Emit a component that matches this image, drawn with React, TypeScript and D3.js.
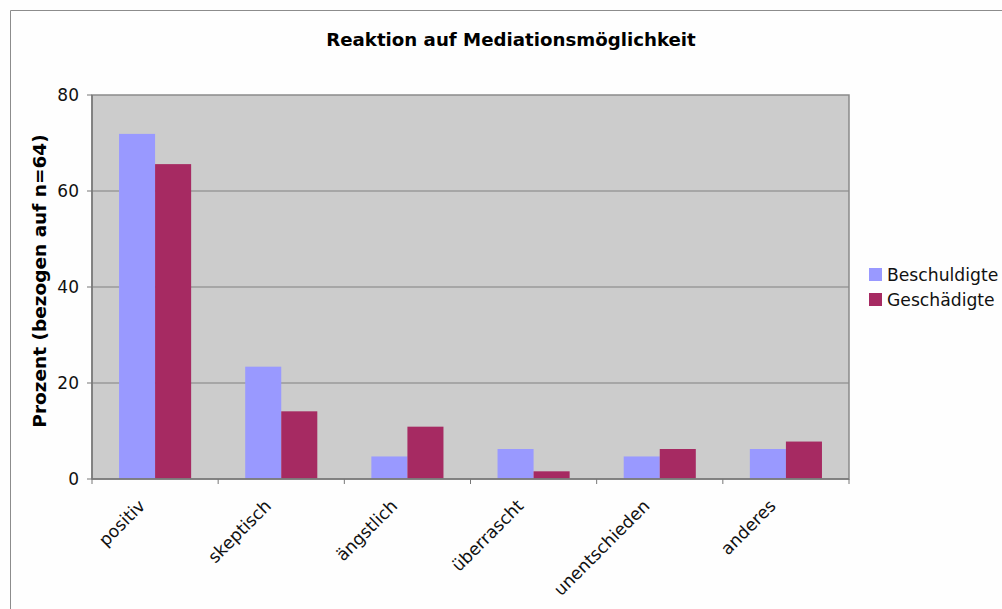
import React from "react";
import * as d3 from "d3";

const categories = ["positiv", "skeptisch", "ängstlich", "überrascht", "unentschieden", "anderes"];
const beschuldigte = [71.9, 23.4, 4.7, 6.25, 4.7, 6.25];
const geschaedigte = [65.6, 14.1, 10.9, 1.6, 6.25, 7.8];
const seriesNames = ["Beschuldigte", "Geschädigte"];
const seriesColors = ["#9999FF", "#A62A62"];
const yTicks = [0, 20, 40, 60, 80];
const title = "Reaktion auf Mediationsmöglichkeit";
const yTitle = "Prozent (bezogen auf n=64)";

const W = 1002;
const H = 609;
const plot = { left: 92, top: 95, right: 849, bottom: 479 };
const font = "'DejaVu Sans', Verdana, sans-serif";

export default function App() {
  const x = d3.scaleBand<string>().domain(categories).range([plot.left, plot.right]).paddingInner(0).paddingOuter(0);
  const y = d3.scaleLinear().domain([0, 80]).range([plot.bottom, plot.top]);
  const bw = x.bandwidth() / 3.5;
  const series = [beschuldigte, geschaedigte];

  return (
    <svg width={W} height={H} style={{ position: "absolute", left: 0, top: 0, background: "#fefefe" }}>
      <rect x={0} y={0} width={W} height={H} fill="#fefefe" />
      {/* outer frame */}
      <path d={`M10.5,${H + 2} V10.5 H${W + 2}`} fill="none" stroke="#8c8c8c" strokeWidth={1} />
      <text x={511} y={46} textAnchor="middle" fontFamily={font} fontWeight="bold" fontSize={18.2} fill="#000">
        {title}
      </text>
      {/* plot area */}
      <rect x={plot.left} y={plot.top} width={plot.right - plot.left} height={plot.bottom - plot.top} fill="#cccccc" />
      {yTicks.filter((t) => t > 0 && t < 80).map((t) => (
        <line key={t} x1={plot.left} x2={plot.right} y1={y(t)} y2={y(t)} stroke="#808080" strokeWidth={1} />
      ))}
      {/* bars */}
      {series.map((vals, si) =>
        vals.map((v, i) => (
          <rect
            key={`${si}-${i}`}
            x={(x(categories[i]) as number) + bw * 0.75 + si * bw}
            y={y(v)}
            width={bw}
            height={y(0) - y(v)}
            fill={seriesColors[si]}
          />
        ))
      )}
      {/* plot border */}
      <rect x={plot.left} y={plot.top} width={plot.right - plot.left} height={plot.bottom - plot.top} fill="none" stroke="#8a8a8a" strokeWidth={1.5} />
      {/* axes */}
      <line x1={plot.left} x2={plot.right} y1={plot.bottom} y2={plot.bottom} stroke="#777" strokeWidth={1.5} />
      <line x1={plot.left} x2={plot.left} y1={plot.top} y2={plot.bottom} stroke="#777" strokeWidth={1.5} />
      {yTicks.map((t) => (
        <g key={t}>
          <line x1={plot.left - 5} x2={plot.left} y1={y(t)} y2={y(t)} stroke="#777" strokeWidth={1} />
          <text x={79} y={y(t)} dy="0.36em" textAnchor="end" fontFamily={font} fontSize={17} fill="#111">
            {t}
          </text>
        </g>
      ))}
      {categories.map((c, i) => (
        <line key={c} x1={(x(c) as number)} x2={(x(c) as number)} y1={plot.bottom} y2={plot.bottom + 5} stroke="#777" strokeWidth={1} />
      ))}
      <line x1={plot.right} x2={plot.right} y1={plot.bottom} y2={plot.bottom + 5} stroke="#777" strokeWidth={1} />
      {categories.map((c) => {
        const cx = (x(c) as number) + x.bandwidth() / 2 - 9;
        const cy = 507;
        return (
          <text key={c} x={cx} y={cy} transform={`rotate(-45 ${cx} ${cy})`} textAnchor="end" fontFamily={font} fontSize={17.2} fill="#111">
            {c}
          </text>
        );
      })}
      <text
        x={0}
        y={0}
        transform={`translate(46 281) rotate(-90)`}
        textAnchor="middle"
        fontFamily={font}
        fontWeight="bold"
        fontSize={18.5}
        fill="#000"
      >
        {yTitle}
      </text>
      {/* legend */}
      {seriesNames.map((s, i) => (
        <g key={s} transform={`translate(869 ${268 + i * 25})`}>
          <rect x={0} y={0} width={13} height={13} fill={seriesColors[i]} />
          <text x={18} y={6.5} dy="0.36em" fontFamily={font} fontSize={17.2} fill="#111">
            {s}
          </text>
        </g>
      ))}
    </svg>
  );
}
